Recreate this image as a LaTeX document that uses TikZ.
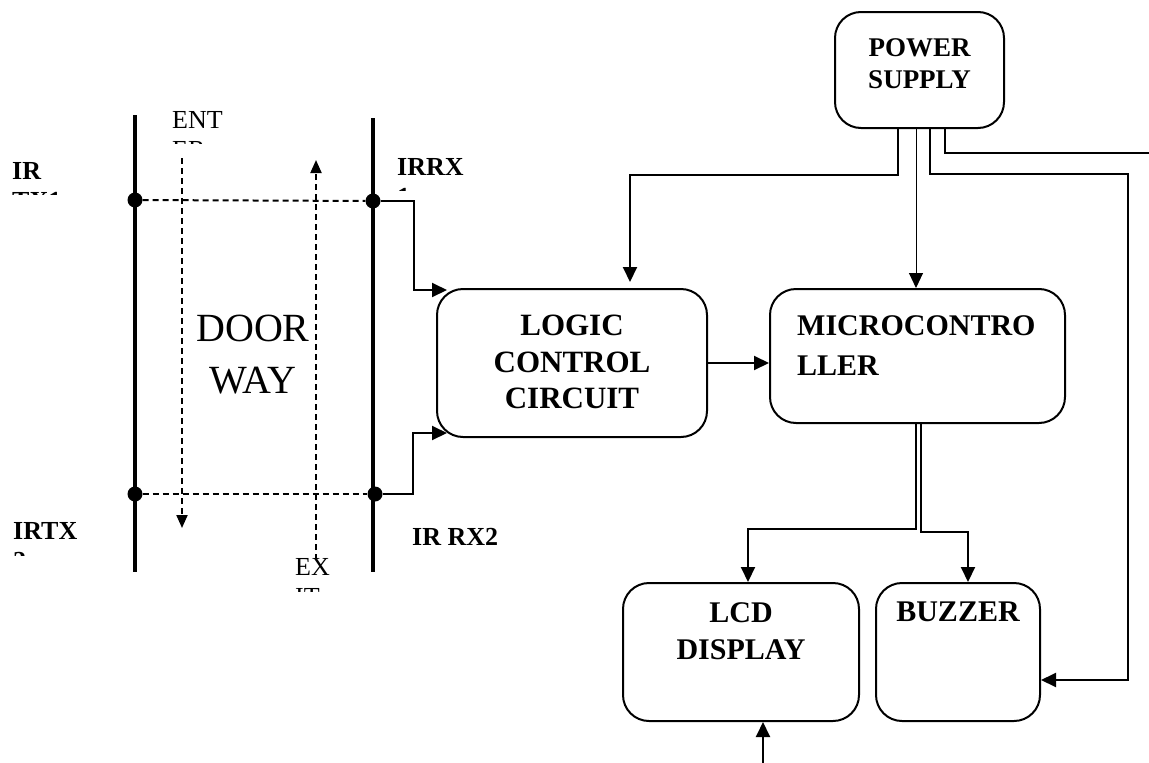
\documentclass[tikz,border=0pt]{standalone}
\usepackage{fontspec}
\setmainfont{Liberation Serif}
\usetikzlibrary{arrows.meta}
\begin{document}
\begin{tikzpicture}[x=1pt,y=-1pt,
  wire/.style={line width=2pt},
  thinwire/.style={line width=1pt},
  tip/.style={-{Triangle[length=15pt,width=14pt]}},
  arr/.style={wire,tip},
  rail/.style={line width=3.5pt},
  beam/.style={line width=2pt,dash pattern=on 6pt off 4pt},
  beamarrow/.style={beam,-{Triangle[length=13pt,width=11pt]}},
  sensor/.style={circle,fill=black,inner sep=0pt,minimum size=15pt},
  block/.style={draw,line width=2pt,rounded corners=26pt,inner sep=0pt},
  lbl/.style={inner sep=0pt,font=\bfseries\fontsize{26}{30.7}\selectfont,align=left},
  plain/.style={inner sep=0pt,font=\fontsize{26}{30.7}\selectfont,align=left},
  boxtxt/.style={inner sep=0pt,font=\bfseries\fontsize{30}{37}\selectfont},
  doortxt/.style={inner sep=0pt,font=\fontsize{40}{52}\selectfont,align=center}
]
\useasboundingbox (0,0) rectangle (1149,763);

% ---- doorway: two door posts ----
\draw[rail] (135,115) -- (135,572);
\draw[rail] (373,118) -- (373,572);

% sensors on the posts
\node[sensor] (tx1) at (135,200) {};
\node[sensor] (rx1) at (373,201) {};
\node[sensor] (tx2) at (135,494) {};
\node[sensor] (rx2) at (375,494) {};

% infrared beams across the doorway
\draw[beam] (tx1) -- (rx1);
\draw[beam] (tx2) -- (rx2);

% direction of passage
\coordinate (entA) at (182,158);
\coordinate (entB) at (182,528);
\coordinate (exA) at (316,560);
\coordinate (exB) at (316,160);
\draw[beamarrow] (entA) -- (entB);
\draw[beamarrow] (exA) -- (exB);

\node[doortxt, anchor=north] (door) at (253,315) {DOOR\\WAY};

% sensor labels (text boxes cut off at the bottom)
\begin{scope}
  \clip (0,140) rectangle (120,194);
  \node[lbl, anchor=north west] (ltx1) at (12,162) {IR\\TX1};
\end{scope}
\begin{scope}
  \clip (390,140) rectangle (500,190);
  \node[lbl, anchor=north west] (lrx1) at (397,158) {IRRX\\1};
\end{scope}
\begin{scope}
  \clip (0,510) rectangle (120,555);
  \node[lbl, anchor=north west] (ltx2) at (13,522) {IRTX\\2};
\end{scope}
\node[lbl, anchor=north west] (lrx2) at (412,528) {IR RX2};
\begin{scope}
  \clip (160,100) rectangle (240,143);
  \node[plain, anchor=north west] (lent) at (172,111) {ENT\\ER};
\end{scope}
\begin{scope}
  \clip (285,545) rectangle (360,591);
  \node[plain, anchor=north west] (lexit) at (295,558) {EX\\IT};
\end{scope}

% ---- blocks ----
\node[block, minimum width=270pt, minimum height=148pt] (logic) at (572,363) {};
\node[block, minimum width=295pt, minimum height=134pt] (micro) at (917.5,356) {};
\node[block, minimum width=169pt, minimum height=116pt] (power) at (919.5,70) {};
\node[block, minimum width=236pt, minimum height=138pt] (lcd) at (741,652) {};
\node[block, minimum width=164pt, minimum height=138pt] (buzzer) at (958,652) {};

\node[boxtxt, align=center, anchor=north, font=\bfseries\fontsize{31}{36.5}\selectfont] (logictxt) at (572,315) {LOGIC\\CONTROL\\CIRCUIT};
\node[boxtxt, align=left, anchor=north west, font=\bfseries\fontsize{30}{40}\selectfont] (microtxt) at (797,315) {MICROCONTRO\\LLER};
\node[inner sep=0pt, font=\bfseries\fontsize{27}{32}\selectfont, align=center, anchor=north] (powertxt) at (919.5,38) {POWER\\SUPPLY};
\node[boxtxt, align=center, anchor=north] (lcdtxt) at (741,602) {LCD\\DISPLAY};
\node[boxtxt, anchor=north] (buzzertxt) at (958,602) {BUZZER};

% ---- receivers to logic circuit ----
\coordinate (lin1) at (447,290);
\coordinate (lin2) at (447,433);
\draw[arr] (rx1.east) -- ++(33,0) |- (lin1);
\draw[arr] (rx2.east) -- ++(30,0) |- (lin2);

% logic circuit to microcontroller
\draw[arr] (logic.east) -- (logic.east -| micro.west);

% ---- power distribution ----
\coordinate (p1) at ([xshift=-21.5pt]power.south);
\coordinate (p2) at ([xshift=-3.5pt]power.south);
\coordinate (p3) at ([xshift=10.5pt]power.south);
\coordinate (p4) at ([xshift=25.5pt]power.south);
\coordinate (lt) at (630,282);
\coordinate (rt) at (1128,174);
\coordinate (pe) at (1149,153);
\draw[arr] (p1) -- ++(0,46) -| (lt);
\draw[thinwire,tip] (p2) -- (p2 |- micro.north);
\draw[arr] (p3) |- (rt) |- ([yshift=-28pt]buzzer.east);
\draw[wire] (p4) |- (pe);

% ---- microcontroller outputs ----
\coordinate (m1) at ([xshift=-1.5pt]micro.south);
\coordinate (m2) at ([xshift=3.5pt]micro.south);
\draw[arr] (m1) -- ++(0,105) -| ([xshift=7pt]lcd.north);
\draw[arr] (m2) -- ++(0,108) -| ([xshift=10pt]buzzer.north);

% input to the display from below
\coordinate (lcdin) at (763,763);
\draw[arr] (lcdin) -- (lcdin |- lcd.south);
\end{tikzpicture}
\end{document}
